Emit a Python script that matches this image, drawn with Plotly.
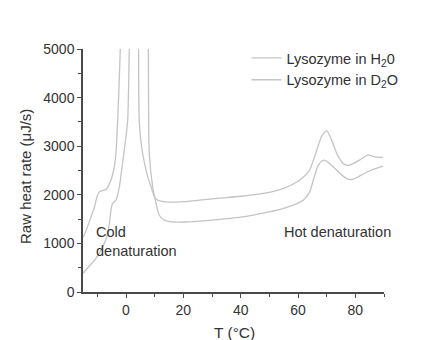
import plotly.graph_objects as go

# Lysozyme in H2O: temperature (°C) and raw heat rate (µJ/s)
t_h2o = [-15, -14, -12.5, -11, -10, -9.3, -8, -7, -6, -5, -4, -3.5, -2.9, -2.4, -2, -1.8, 1.2,
         4.3, 4.4, 4.6, 5.8, 7.6, 8.7, 9.9, 11, 13, 15, 20, 25.7, 32.6, 40, 50, 55, 60, 62,
         64, 66.4, 68.2, 70, 71.7, 74, 76.3, 78, 81.6, 84.5, 86.8, 89.7]
q_h2o = [1120, 1250, 1500, 1750, 1980, 2060, 2090, 2110, 2200, 2350, 2600, 2860, 3540, 4300, 5000, 5400, 9000,
         5400, 5000, 3540, 2850, 2370, 2170, 1960, 1890, 1860, 1850, 1860, 1890, 1930, 1970, 2050, 2130, 2280, 2370,
         2500, 2890, 3200, 3320, 3130, 2790, 2620, 2610, 2720, 2820, 2780, 2770]

# Lysozyme in D2O
t_d2o = [-15, -13, -11, -9.3, -8, -7, -6.4, -5.8, -5.2, -4.7, -3.5, -2.3, -1.2, 0, 0.6, 1.15, 1.3, 4.5,
         7.7, 7.8, 8.1, 9.3, 10.5, 11.6, 13.4, 15.7, 20, 25.7, 30, 40, 50, 55, 60, 62, 64, 65.5, 67,
         68.5, 69.5, 72.2, 75.2, 77.5, 79.2, 82.2, 85.7, 89.7]
q_d2o = [385, 520, 650, 800, 950, 1080, 1210, 1400, 1700, 1820, 1890, 2170, 2650, 3200, 3540, 5000, 5400, 9000,
         5400, 5000, 2860, 2170, 1820, 1580, 1480, 1445, 1440, 1460, 1480, 1540, 1650, 1720, 1830, 1900, 2050, 2330, 2600,
         2700, 2710, 2580, 2410, 2320, 2320, 2410, 2510, 2590]

x_ticks = [0, 20, 40, 60, 80]
y_ticks = [0, 1000, 2000, 3000, 4000, 5000]

FONT = "Arial, Liberation Sans, sans-serif"
LINE_COLOR = "#c4c4c4"
INK = "#333333"

fig = go.Figure()
fig.add_trace(go.Scatter(x=t_h2o, y=q_h2o, mode="lines", name="Lysozyme in H<sub>2</sub>0",
                         line=dict(color=LINE_COLOR, width=1.3, shape="spline", smoothing=0.6)))
fig.add_trace(go.Scatter(x=t_d2o, y=q_d2o, mode="lines", name="Lysozyme in D<sub>2</sub>O",
                         line=dict(color=LINE_COLOR, width=1.3, shape="spline", smoothing=0.6)))

axis_common = dict(
    showline=True, linecolor="#4a4a4a", linewidth=1.5,
    ticks="outside", ticklen=4, tickwidth=1.2, tickcolor="#4a4a4a",
    showgrid=False, zeroline=False, automargin=False,
    tickfont=dict(family=FONT, size=14, color=INK),
)

fig.update_xaxes(range=[-15, 90], tickvals=x_ticks,
                 minor=dict(dtick=10, ticks="outside", ticklen=3, tickcolor="#4a4a4a"),
                 **axis_common)
fig.update_yaxes(range=[0, 5000], tickvals=y_ticks,
                 minor=dict(dtick=500, ticks="outside", ticklen=3, tickcolor="#4a4a4a"),
                 **axis_common)

# axis titles
fig.add_annotation(x=0.502, y=-0.165, xref="paper", yref="paper", text="T (°C)",
                   showarrow=False, xanchor="center", yanchor="middle",
                   font=dict(family=FONT, size=15.5, color=INK))
fig.add_annotation(x=-0.193, y=0.477, xref="paper", yref="paper", text="Raw heat rate (μJ/s)",
                   textangle=-90, showarrow=False, xanchor="center", yanchor="middle",
                   font=dict(family=FONT, size=15, color=INK))

fig.add_annotation(x=-11.2, y=1040, xref="x", yref="y", text="Cold<br>denaturation",
                   showarrow=False, xanchor="left", yanchor="middle", align="left",
                   font=dict(family=FONT, size=14.5, color=INK))
fig.add_annotation(x=54.3, y=1240, xref="x", yref="y", text="Hot denaturation",
                   showarrow=False, xanchor="left", yanchor="middle",
                   font=dict(family=FONT, size=14.5, color=INK))

fig.update_layout(
    width=434, height=340,
    margin=dict(l=83, r=50, t=49, b=48),
    paper_bgcolor="white", plot_bgcolor="white",
    font=dict(family=FONT, color=INK),
    legend=dict(x=0.543, y=1.029, xanchor="left", yanchor="top",
                bgcolor="rgba(0,0,0,0)", font=dict(family=FONT, size=14.5, color=INK),
                tracegroupgap=0, itemwidth=30),
    showlegend=True,
)

fig.write_html("out.html")
